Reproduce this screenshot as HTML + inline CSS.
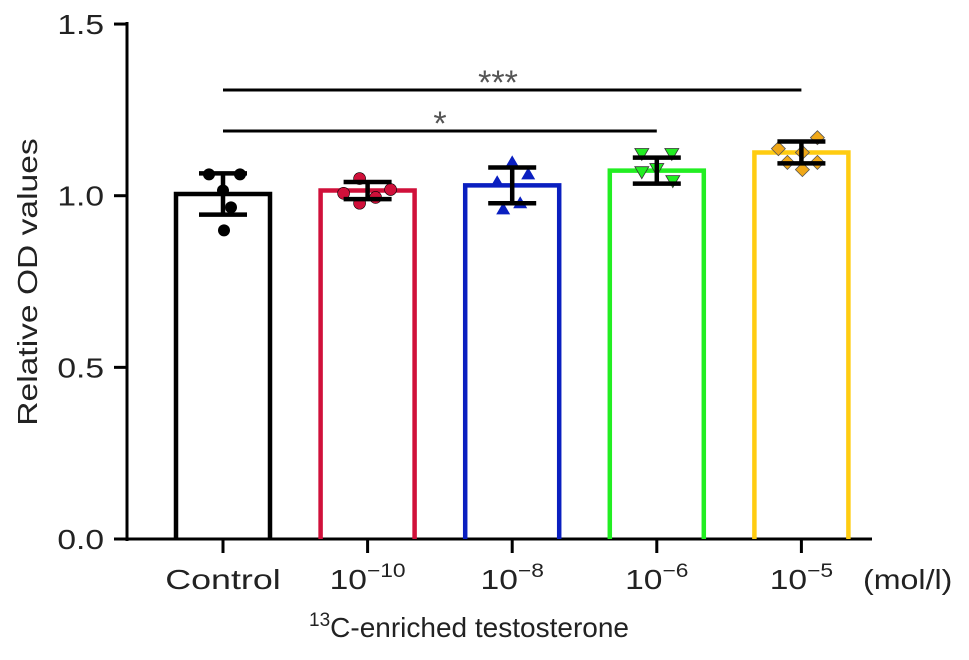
<!DOCTYPE html>
<html><head><meta charset="utf-8"><style>
body{margin:0;background:#fff}
text{font-family:"Liberation Sans",sans-serif}
</style></head><body>
<svg id="chart" width="969" height="655" xmlns="http://www.w3.org/2000/svg">
<g id="g"></g>
</svg>
<script>
const categories=["Control","10^-10","10^-8","10^-6","10^-5"];
const means=[1.005,1.015,1.03,1.073,1.126];
const sds=[0.06,0.025,0.052,0.038,0.032];
const colors=["#000000","#d0103a","#0a1fc0","#22ee22","#ffcc11"];
const pts0=[1.062,1.062,1.015,0.966,0.899];
const pts1=[1.05,1.007,0.978,0.995,1.018];
const pts2=[1.097,1.062,1.039,0.96,0.978];
const pts3=[1.123,1.123,1.07,1.079,1.044];
const pts4=[1.169,1.137,1.126,1.097,1.097,1.076];
const jit0=[-14,17,0,8,1];
const jit1=[-8,-24,-8,8,23];
const jit2=[0,16,-15,-9,8];
const jit3=[-15,15,-15,0,16];
const jit4=[16,-23,1,-14,16,1];
const yTicks=[0,0.5,1.0,1.5];
const yTickLabels=["0.0","0.5","1.0","1.5"];
const NS="http://www.w3.org/2000/svg";
const g=document.getElementById('g');
const y=v=>539-v*343.3;
const x=i=>223+i*144.6;
function el(t,a,p){const e=document.createElementNS(NS,t);for(const k in a)e.setAttribute(k,a[k]);(p||g).appendChild(e);return e;}
function txt(px,py,anchor,size,sx){return el('text',{transform:`translate(${px},${py}) scale(${sx||1.2},1)`,'text-anchor':anchor,'font-size':size,fill:'#222'});}
let ax=el('line',{x1:127,y1:22,x2:127,y2:541,stroke:'#000','stroke-width':3});


let bx=el('line',{x1:125.5,y1:539,x2:872,y2:539,stroke:'#000','stroke-width':3});


yTicks.forEach((v,i)=>{
 let t=el('line',{x1:114,y1:y(v),x2:127,y2:y(v),stroke:'#000','stroke-width':3});
 
 
 let l=txt(104,y(v)+10,'end',28);
 l.textContent=yTickLabels[i];
 
 
});
const ptsAll=[pts0,pts1,pts2,pts3,pts4];
const jitAll=[jit0,jit1,jit2,jit3,jit4];
const markers=['circle','circle','tri','tridown','diamond'];
categories.forEach((c,i)=>{
 const cx=x(i);
 let b=el('path',{d:`M${cx-47},${y(0)} V${y(means[i])} H${cx+47} V${y(0)}`,fill:'none',stroke:colors[i],'stroke-width':4.5});
 
 
 let tk=el('line',{x1:cx,y1:539,x2:cx,y2:553,stroke:'#000','stroke-width':3});
 
 
 const pts=ptsAll[i];
 pts.forEach((v,j)=>{
  const px=cx+jitAll[i][j];
  const py=y(v);let m;
  const fc=i===0?'#000':colors[i];
  if(markers[i]==='circle')m=el('circle',{cx:px,cy:py,r:6,fill:fc,stroke:'#000','stroke-width':i?0.6:0});
  else if(markers[i]==='tri')m=el('path',{d:`M${px},${py-7} L${px+7},${py+5} L${px-7},${py+5}Z`,fill:fc});
  else if(markers[i]==='tridown')m=el('path',{d:`M${px-7},${py-5} L${px+7},${py-5} L${px},${py+7}Z`,fill:fc,stroke:'#333','stroke-width':0.8});
  else m=el('path',{d:`M${px},${py-7} L${px+7},${py} L${px},${py+7} L${px-7},${py}Z`,fill:'#f0a818',stroke:'#555','stroke-width':0.8});
  
  
 });
 const top=y(means[i]+sds[i]),bot=y(means[i]-sds[i]);
 let e=el('path',{d:`M${cx},${top} V${bot} M${cx-24},${top} H${cx+24} M${cx-24},${bot} H${cx+24}`,stroke:'#000','stroke-width':4.5,fill:'none'});
 
 
 let l=txt(cx,589,'middle',28,c==='Control'?1.28:1.2);
 if(c.startsWith('10^')){l.textContent='10';const s=el('tspan',{dy:-12,'font-size':19},l);s.textContent='\u2212'+c.slice(4);}
 else l.textContent=c;
 
 
});
let u=txt(863,589,'start',28,1.15);u.textContent='(mol/l)';


let xt=txt(469,637,'middle',28,1.0);
const sp=el('tspan',{dy:-11,'font-size':19},xt);sp.textContent='13';
const sp2=el('tspan',{dy:11},xt);sp2.textContent='C-enriched testosterone';


let yt=el('text',{transform:'translate(37,282) rotate(-90) scale(1.2,1)','text-anchor':'middle','font-size':28,fill:'#222'});
yt.textContent='Relative OD values';


[[0,4,90,'***',498],[0,3,131,'*',440]].forEach(s=>{
 let ln=el('line',{x1:x(s[0]),y1:s[2],x2:x(s[1]),y2:s[2],stroke:'#000','stroke-width':3});
 
 
 let st=el('text',{x:s[4],y:s[2]+4,'text-anchor':'middle','font-size':34,fill:'#555','font-family':'Liberation Serif'});
 st.textContent=s[3];
 
 
});
</script>
</body></html>
